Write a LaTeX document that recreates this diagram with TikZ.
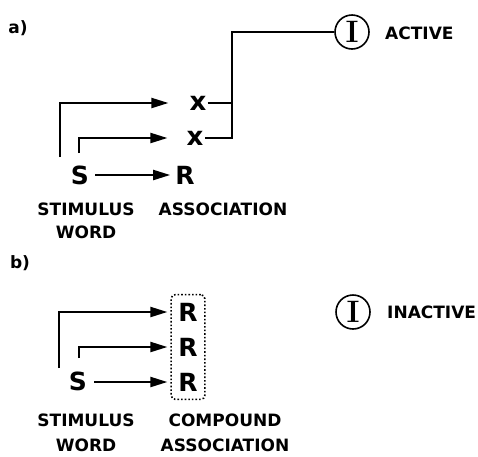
\documentclass[tikz,border=0pt]{standalone}
\usepackage{fontspec}
\newfontfamily\lblfont{DejaVu Sans}
\usetikzlibrary{arrows.meta,fit}
\tikzset{
  lbl/.style={font=\lblfont\bfseries\fontsize{17}{17}\selectfont, inner sep=0pt},
  big/.style={font=\lblfont\bfseries\fontsize{25}{25}\selectfont, inner sep=0pt},
  cross/.style={font=\lblfont\bfseries\fontsize{26}{26}\selectfont, inner sep=0pt},
  wire/.style={line width=2.1pt},
  arr/.style={wire, -{Triangle[length=17pt,width=10pt]}},
  inh/.style={circle, draw, line width=1.6pt, minimum size=34pt, inner sep=0pt,
    font=\bfseries\fontsize{31}{31}\selectfont},
  compound/.style={draw, line width=1.6pt, dash pattern=on 1.6pt off 2pt,
    rounded corners=4pt, inner xsep=7pt, inner ysep=8pt}
}
\begin{document}
\begin{tikzpicture}[x=1pt,y=-1pt]
\useasboundingbox (0,0) rectangle (478,456);

% ---- panel a: active inhibition ----
\node[lbl] (la) at (18,28) {a)};
\node[inh] (Ia) at (352,32) {I};
\node[lbl, anchor=west] (acta) at (385,33) {ACTIVE};
\node[cross] (x1) at (198,103) {x};
\node[cross] (x2) at (195,138) {x};
\node[big] (Sa) at (80,175) {S};
\node[big] (Ra) at (185,175) {R};
\node[lbl] (stima) at (86,209) {STIMULUS};
\node[lbl] (worda) at (86,232) {WORD};
\node[lbl] (assa) at (223,209) {ASSOCIATION};

\coordinate (a1s) at (60,157);
\coordinate (a2s) at (79,153);
\coordinate (bus) at (232,0);
\draw[arr] (a1s) |- ([xshift=-21pt]x1.west);
\draw[arr] (a2s) |- ([xshift=-19pt]x2.west);
\draw[arr, shorten <=6pt, shorten >=5pt] (Sa) -- (Ra);
\draw[wire] (Ia.west) -| (bus |- x2) -- ([xshift=1pt]x2.east);
\draw[wire] ([xshift=1pt]x1.east) -- (bus |- x1);

% ---- panel b: compound association ----
\node[lbl] (lb) at (20,263) {b)};
\node[big] (Rb1) at (188,312) {R};
\node[big] (Rb2) at (188,347) {R};
\node[big] (Rb3) at (188,382) {R};
\node[compound, fit=(Rb1)(Rb3)] (box) {};
\node[big] (Sb) at (78,381) {S};
\node[inh] (Ib) at (353,312) {I};
\node[lbl, anchor=west] (inact) at (387,312) {INACTIVE};
\node[lbl] (stimb) at (86,420) {STIMULUS};
\node[lbl] (wordb) at (86,445) {WORD};
\node[lbl] (compb) at (225,420) {COMPOUND};
\node[lbl] (assb) at (225,445) {ASSOCIATION};

\coordinate (b1s) at (59,368);
\coordinate (b2s) at (79,358);
\draw[arr] (b1s) |- ([xshift=-3pt]box.west |- Rb1);
\draw[arr] (b2s) |- ([xshift=-3pt]box.west |- Rb2);
\draw[arr] ([xshift=7pt]Sb.east |- Rb3) -- ([xshift=-3pt]box.west |- Rb3);
\end{tikzpicture}
\end{document}
